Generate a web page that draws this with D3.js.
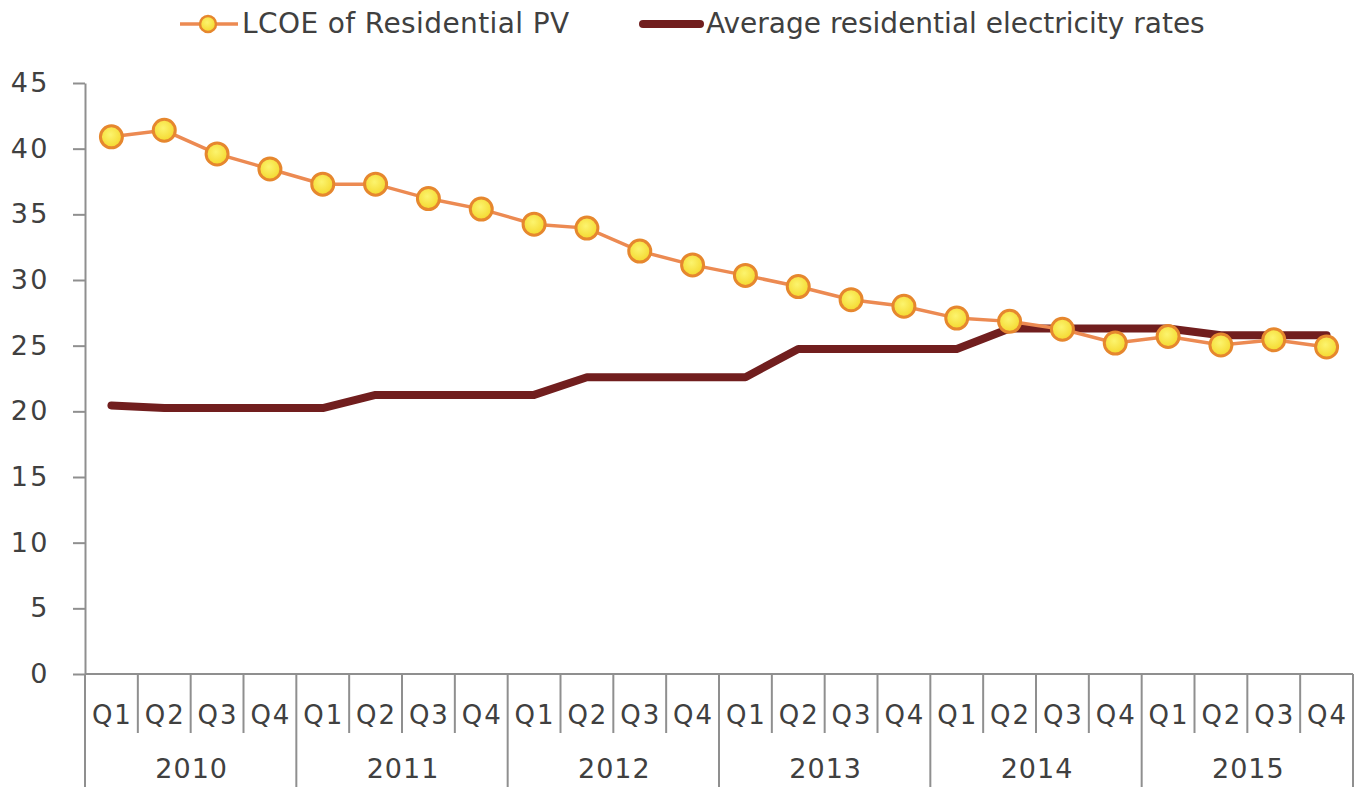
<!DOCTYPE html>
<html>
<head>
<meta charset="utf-8">
<script src="https://cdn.jsdelivr.net/npm/d3@7"></script>
<style>
  html, body { margin: 0; padding: 0; background: #fff; }
  svg { display: block; }
  text { font-family: "DejaVu Sans", sans-serif; fill: #404040; }
</style>
</head>
<body>
<svg id="chart" width="1363" height="787"></svg>
<script>
// Quarterly categories, grouped by year
const years = ["2010", "2011", "2012", "2013", "2014", "2015"];
const quarters = ["Q1", "Q2", "Q3", "Q4"];

// LCOE of residential PV (cents/kWh), one value per quarter
const lcoe = [40.9, 41.4, 39.6, 38.45, 37.3, 37.3, 36.2, 35.4,
              34.25, 33.95, 32.2, 31.15, 30.35, 29.5, 28.5, 28.0,
              27.1, 26.85, 26.25, 25.2, 25.7, 25.05, 25.45, 24.9];

// Average residential electricity rates (cents/kWh)
const rates = [20.45, 20.25, 20.25, 20.25, 20.25, 21.25, 21.25, 21.25,
               21.25, 22.6, 22.6, 22.6, 22.6, 24.75, 24.75, 24.75,
               24.75, 26.3, 26.3, 26.3, 26.3, 25.8, 25.8, 25.8];

const yTicks = [0, 5, 10, 15, 20, 25, 30, 35, 40, 45];

const seriesNames = ["LCOE of Residential PV", "Average residential electricity rates"];

const W = 1363, H = 787;
const plotLeft = 85, plotRight = 1353, plotTop = 83, plotBase = 674;

const svg = d3.select("#chart");

const keys = [];
years.forEach(yr => quarters.forEach(q => keys.push(yr + "-" + q)));

const x = d3.scaleBand().domain(keys).range([plotLeft, plotRight]).padding(0);
const y = d3.scaleLinear().domain([0, 45]).range([plotBase, plotTop]);
const cx = i => x(keys[i]) + x.bandwidth() / 2;

// Marker gradient
const defs = svg.append("defs");
const grad = defs.append("radialGradient").attr("id", "dotFill")
  .attr("cx", "45%").attr("cy", "40%").attr("r", "60%");
grad.append("stop").attr("offset", "0%").attr("stop-color", "#fcf46e");
grad.append("stop").attr("offset", "100%").attr("stop-color", "#f4d82e");

const axisColor = "#8f8f8f";

// Y axis
const yAxis = svg.append("g")
  .attr("transform", `translate(${plotLeft},0)`)
  .call(d3.axisLeft(y).tickValues(yTicks).tickSize(12).tickSizeOuter(0).tickPadding(23));
yAxis.select(".domain").attr("stroke", axisColor).attr("stroke-width", 2);
yAxis.selectAll(".tick line").attr("stroke", axisColor).attr("stroke-width", 2);
yAxis.selectAll(".tick text")
  .attr("font-family", "DejaVu Sans, sans-serif")
  .attr("font-size", 27).attr("fill", "#404040")
  .attr("letter-spacing", 2.5);

// X axis baseline
svg.append("line")
  .attr("x1", plotLeft).attr("x2", plotRight).attr("y1", plotBase).attr("y2", plotBase)
  .attr("stroke", axisColor).attr("stroke-width", 2);

// Category dividers: short for quarters, full height for years
const boundaries = d3.range(keys.length + 1);
const bx = i => i < keys.length ? x(keys[i]) : plotRight;
svg.append("g").selectAll("line").data(boundaries).join("line")
  .attr("x1", bx)
  .attr("x2", bx)
  .attr("y1", plotBase)
  .attr("y2", i => i % 4 === 0 ? H : 733)
  .attr("stroke", axisColor).attr("stroke-width", 2);

// Quarter labels
svg.append("g").selectAll("text").data(keys).join("text")
  .attr("x", (k, i) => cx(i) + 1)
  .attr("y", 724)
  .attr("text-anchor", "middle")
  .attr("font-size", 26)
  .attr("letter-spacing", 2)
  .text(k => k.split("-")[1]);

// Year labels
svg.append("g").selectAll("text").data(years).join("text")
  .attr("x", (yr, j) => (bx(j * 4) + bx(j * 4 + 4)) / 2 + 1)
  .attr("y", 778)
  .attr("text-anchor", "middle")
  .attr("font-size", 27)
  .attr("letter-spacing", 1)
  .text(d => d);

// Electricity rates line
const line = d3.line().x((d, i) => cx(i)).y(d => y(d));
svg.append("path").datum(rates)
  .attr("d", line)
  .attr("fill", "none")
  .attr("stroke", "#711e1e")
  .attr("stroke-width", 8)
  .attr("stroke-linejoin", "round")
  .attr("stroke-linecap", "round");

// LCOE line with markers
svg.append("path").datum(lcoe)
  .attr("d", line)
  .attr("fill", "none")
  .attr("stroke", "#ec8a52")
  .attr("stroke-width", 3.5);

svg.append("g").selectAll("circle").data(lcoe).join("circle")
  .attr("cx", (d, i) => cx(i))
  .attr("cy", d => y(d))
  .attr("r", 11)
  .attr("fill", "url(#dotFill)")
  .attr("stroke", "#e6872e")
  .attr("stroke-width", 3);

// Legend
const lg = svg.append("g");
lg.append("line").attr("x1", 180).attr("x2", 238).attr("y1", 24).attr("y2", 24)
  .attr("stroke", "#ec8a52").attr("stroke-width", 3.5);
lg.append("circle").attr("cx", 208).attr("cy", 24).attr("r", 8)
  .attr("fill", "url(#dotFill)").attr("stroke", "#e6872e").attr("stroke-width", 2.5);
lg.append("text").attr("x", 242).attr("y", 33).attr("font-size", 28)
  .attr("letter-spacing", 0.4).text(seriesNames[0]);

lg.append("line").attr("x1", 643).attr("x2", 700).attr("y1", 24).attr("y2", 24)
  .attr("stroke", "#711e1e").attr("stroke-width", 8).attr("stroke-linecap", "round");
lg.append("text").attr("x", 706).attr("y", 33).attr("font-size", 28).text(seriesNames[1]);
</script>
</body>
</html>
